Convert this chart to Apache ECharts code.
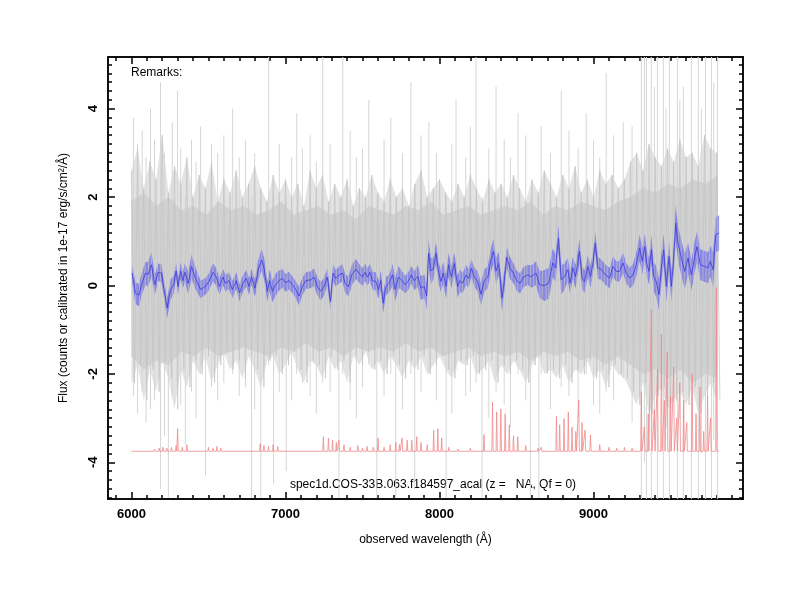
<!DOCTYPE html>
<html>
<head>
<meta charset="utf-8">
<script src="https://cdn.jsdelivr.net/npm/echarts@6/dist/echarts.min.js"></script>
<style>
  html, body { margin: 0; padding: 0; background: #fff; }
  #chart { width: 800px; height: 600px; }
</style>
</head>
<body>
<div id="chart"></div>
<script>
// axis ranges and tick labels
const xMin = 5848, xMax = 9970;
const yMin = -4.83, yMax = 5.17;
const xMajor = [6000, 7000, 8000, 9000];
const yMajor = [-4, -2, 0, 2, 4];

// smoothed spectrum (blue)
const blueWl = [6004,6026,6048,6069,6091,6108,6130,6152,6173,6195,6210,6232,6254,6275,6290,6303,6319,6334,6347,6369,
  6390,6416,6449,6481,6503,6529,6551,6572,6594,6611,6633,6655,6681,6702,6724,6746,6763,6780,6802,6824,
  6845,6861,6882,6897,6915,6936,6958,6980,7001,7023,7045,7066,7088,7110,7132,7164,7186,7207,7229,7251,7272,
  7292,7309,7327,7348,7370,7387,7409,7431,7457,7478,7500,7517,7532,7548,7565,7587,7604,7619,7634,7652,
  7673,7695,7712,7734,7756,7777,7799,7816,7836,7858,7879,7901,7916,7929,7944,7959,7977,7994,8009,8024,
  8042,8059,8077,8096,8118,8133,8150,8172,8189,8207,8226,8248,8269,8291,8313,8334,8350,8367,8384,8406,
  8421,8436,8458,8480,8501,8523,8545,8573,
  8595,8627,8649,8681,8709,8735,8753,8772,8790,8811,8833,8848,8865,8883,8909,8926,8941,8963,8980,8996,
  9011,9028,9050,9078,9104,9126,9147,9169,9191,9212,9234,9256,9277,9299,9316,9332,9347,9360,9375,9390,
  9407,9425,9440,9455,9472,9490,9505,9520,9533,9548,9570,9592,9613,9635,9657,9672,9693,9722,9743,9758,
  9776,9793,9815];
const blueFlux = [0.28,-0.17,-0.22,0.05,0.28,0.25,0.47,0.02,0.3,0.28,-0.06,-0.51,-0.09,0.02,0.33,-0.02,0.33,0.11,0.3,0.05,
  0.43,0.16,-0.09,-0.02,0.09,0.3,0.19,-0.02,0.19,0.05,0.11,-0.09,0.11,-0.17,0.05,0.16,-0.02,0.19,-0.06,0.37,
  0.58,0.39,-0.13,0.11,-0.13,0.02,0.11,0.16,0.06,0.11,0.02,-0.09,-0.24,-0.02,0.11,0.13,0.19,-0.02,-0.13,-0.02,0.19,
  -0.36,0.28,0.16,0.24,0.28,0.05,-0.02,0.24,0.37,0.28,0.19,0.3,0.19,0.3,0.11,0.09,-0.09,0.11,-0.4,-0.02,
  0.05,0.24,-0.09,0.19,0.11,0.02,0.11,0.24,0.11,0.21,-0.06,-0.02,-0.24,0.73,0.33,0.37,0.73,0.3,0.09,0.28,
  -0.02,0.47,0.19,0.5,-0.02,0.11,0.05,0.24,0.16,0.39,0.19,0.09,-0.2,0.11,0.19,0.58,0.77,0.33,0.5,-0.29,
  0.11,0.64,0.39,0.28,0.11,0.05,0.19,0.24,
  0.2,0.28,0.02,0.0,0.05,0.51,0.4,1.07,0.13,0.2,0.36,0.05,0.4,0.2,0.77,0.17,0.09,0.43,0.2,0.51,
  0.96,0.4,0.36,0.24,0.17,0.43,0.32,0.32,0.51,0.28,0.17,0.24,0.47,0.85,0.55,0.88,0.47,0.32,0.81,0.2,
  0.09,-0.21,0.4,0.81,-0.02,0.66,-0.02,0.62,1.41,0.96,0.62,0.32,0.62,0.24,0.66,0.88,0.47,0.43,0.4,0.55,
  0.36,1.15,1.19];
const blueErr = [0.2,0.25,0.25,0.25,0.26,0.28,0.28,0.23,0.2,0.2,0.2,0.23,0.23,0.2,0.19,0.19,0.19,0.19,0.21,0.25,
  0.27,0.25,0.2,0.19,0.19,0.21,0.2,0.19,0.19,0.19,0.19,0.2,0.19,0.2,0.19,0.19,0.19,0.19,0.2,0.23,
  0.25,0.25,0.23,0.25,0.25,0.25,0.23,0.21,0.2,0.2,0.19,0.19,0.21,0.2,0.19,0.19,0.2,0.2,0.21,0.2,0.2,
  0.2,0.2,0.19,0.19,0.2,0.21,0.23,0.23,0.23,0.21,0.2,0.2,0.2,0.19,0.2,0.21,0.21,0.23,0.23,0.21,
  0.2,0.25,0.27,0.25,0.21,0.2,0.2,0.2,0.21,0.25,0.27,0.27,0.3,0.33,0.29,0.25,0.25,0.25,0.25,0.25,
  0.27,0.27,0.25,0.25,0.25,0.25,0.23,0.23,0.21,0.21,0.21,0.23,0.25,0.25,0.25,0.27,0.29,0.29,0.27,0.3,
  0.25,0.25,0.25,0.23,0.23,0.23,0.23,0.23,
  0.25,0.27,0.3,0.35,0.35,0.33,0.31,0.3,0.33,0.3,0.27,0.25,0.25,0.27,0.27,0.27,0.25,0.25,0.25,0.25,
  0.25,0.25,0.23,0.23,0.23,0.23,0.23,0.23,0.23,0.23,0.23,0.25,0.27,0.3,0.3,0.3,0.3,0.3,0.33,0.33,
  0.35,0.35,0.35,0.35,0.35,0.35,0.35,0.35,0.4,0.4,0.4,0.4,0.35,0.35,0.35,0.35,0.35,0.35,0.35,0.35,
  0.4,0.4,0.4];

// raw spectrum (gray): outer reach of the noise, every 40 A from 6000
const grayStart = 6000, grayStep = 40;
const grayHi = [2.6,3.1,2.2,2.8,2.4,3.4,2.1,2.7,2.3,2.9, 2.0,2.5,2.2,2.8,1.9,2.4,2.1,2.6,2.0,2.3,
  2.7,2.2,1.9,2.5,2.1,2.4,2.0,2.3,1.8,2.6, 2.2,2.5,1.9,2.3,2.0,2.4,1.8,2.2,2.0,2.5,
  2.1,1.9,2.4,2.0,2.2,1.8,2.3,2.6,2.0,2.2, 2.4,2.1,1.9,2.3,2.0,2.5,2.2,1.9,2.4,2.1,
  2.3,2.0,2.5,2.2,1.9,2.4,2.1,2.6,2.3,2.0, 2.5,2.2,2.7,2.1,2.4,2.0,2.6,2.3,2.5,2.2,
  2.4,2.8,3.0,2.6,3.2,2.9,2.7,3.1,2.8,3.3, 2.9,3.0,2.7,3.4,3.1,3.0];
const grayLo = [-2.2,-1.8,-2.6,-1.9,-2.4,-1.7,-2.1,-2.8,-1.9,-2.3, -1.7,-2.0,-1.6,-2.2,-1.8,-1.5,-1.9,-1.7,-2.1,-1.6,
  -1.9,-2.3,-1.7,-1.6,-2.0,-1.8,-1.5,-1.9,-2.2,-1.7, -1.8,-2.1,-1.6,-1.9,-1.7,-2.2,-1.6,-1.8,-1.5,-1.9,
  -1.7,-2.0,-1.6,-1.8,-2.1,-1.7,-1.9,-1.6,-2.0,-1.8, -1.6,-1.9,-2.1,-1.7,-1.8,-1.6,-2.0,-1.9,-1.7,-2.2,
  -1.8,-2.0,-1.7,-1.9,-2.2,-1.8,-1.6,-2.0,-1.9,-2.1, -1.8,-2.2,-1.9,-2.0,-1.7,-2.1,-1.9,-2.3,-1.8,-2.0,
  -2.1,-2.4,-2.7,-2.2,-2.9,-2.5,-2.3,-2.8,-2.6,-2.4, -2.7,-2.3,-2.9,-2.5,-2.2,-2.6];
// dense core of the noise, every 81 A from 6000
const coreStep = 81;
const coreHi = [1.9,2.1,1.8,2.0,1.7,1.8,1.6,1.9,1.7,1.8, 1.6,1.7,1.9,1.6,1.7,1.8,1.6,1.7,1.5,1.8,
  1.7,1.6,1.8,1.7,1.9,1.6,1.7,1.8,1.6,1.7, 1.8,1.7,1.9,1.6,1.8,1.7,1.9,1.8,1.7,1.9,
  2.0,2.2,2.1,2.3,2.2,2.4,2.3,2.5];
const coreLo = [-1.6,-1.9,-1.7,-1.8,-1.5,-1.6,-1.4,-1.6,-1.5,-1.4, -1.5,-1.6,-1.4,-1.5,-1.3,-1.5,-1.4,-1.6,-1.4,-1.5,
  -1.4,-1.5,-1.3,-1.5,-1.4,-1.6,-1.5,-1.4,-1.6,-1.5, -1.6,-1.5,-1.7,-1.5,-1.6,-1.5,-1.7,-1.6,-1.8,-1.6,
  -1.8,-2.0,-1.9,-2.1,-1.9,-2.2,-2.0,-2.1];

// isolated gray spikes: wavelength, top, bottom
const spikeWl = [6013,6124,6189,6240,6299,6350,6449,6481,6657,6780,6840,6891,6923,7005,7073,7242,7347,7372,7541,7593,
  7684,7716,7814,7839,7931,8043,8107,8237,8276,8367,8510,8590,8645,8660,8790,8952,9082,9193,
  9310,9330,9343,9375,9395,9414,9453,9470,9492,9544,9560,9583,9635,9680,9700,9726,9765,9780,9804,
  6040,6070,6095,6150,6215,6265,6320,6390,6420,6520,6560,6600,6700,6740,6800,6960,7040,7110,7160,7200,
  7290,7420,7460,7500,7640,7760,7880,7980,8080,8170,8200,8320,8420,8460,8560,8720,8840,8900,9000,9040,
  9130,9250];
const spikeTop = [3.8,4.0,4.6,2.0,4.4,2.0,3.6,2.0,4.0,2.0,2.0,5.3,2.0,2.0,3.9,5.3,2.0,5.3,4.2,2.0,
  3.8,2.0,4.6,2.0,3.7,2.0,4.2,5.3,2.0,4.5,3.9,2.0,2.0,3.6,4.4,3.9,4.8,3.7,
  5.3,5.3,5.3,5.3,4.5,5.3,5.3,4.0,5.3,5.3,4.2,4.5,5.3,5.3,4.0,5.3,5.3,4.6,5.3,
  3.2,3.5,2.9,3.3,3.0,3.7,3.1,3.3,2.8,3.2,3.0,3.4,2.9,3.3,3.0,3.2,2.9,3.1,3.4,2.8,
  3.2,3.5,2.9,3.1,3.3,3.0,3.4,3.0,3.2,2.9,3.6,3.1,3.3,2.9,3.4,3.0,3.5,3.1,3.3,2.9,
  3.4,3.6];
const spikeBot = [-2.5,-2.8,-4.6,-4.8,-2.2,-3.6,-2.0,-4.3,-2.0,-4.8,-4.8,-1.8,-4.5,-4.2,-2.0,-2.2,-4.8,-2.0,-1.8,-4.8,
  -2.0,-4.8,-2.0,-4.6,-2.0,-4.8,-1.9,-2.2,-4.8,-2.4,-2.0,-4.8,-4.8,-2.0,-2.3,-2.0,-2.4,-2.1,
  -4.9,-4.0,-4.9,-4.9,-3.5,-4.9,-4.9,-3.2,-4.9,-4.9,-3.0,-4.9,-4.9,-4.9,-3.8,-4.9,-4.9,-3.5,-4.9,
  -2.9,-2.4,-3.1,-2.6,-3.4,-2.5,-2.7,-2.4,-3.0,-2.3,-2.6,-2.2,-2.5,-2.3,-2.8,-2.4,-2.6,-2.2,-2.5,-2.9,
  -2.4,-2.6,-3.0,-2.3,-2.5,-2.8,-2.4,-2.6,-2.9,-2.5,-2.4,-3.0,-2.7,-3.2,-2.6,-2.8,-2.5,-3.0,-2.7,-2.9,
  -2.6,-3.1];

// sky spectrum (red): baseline and emission line peaks
const skyBase = -3.75;
const skyStart = 6000, skyEnd = 9812;
const skyWl = [6100,6150,6180,6205,6230,6260,6290,6300,6330,6360,6500,6530,6555,6580,6836,6860,6890,6920,6950,7246,
  7279,7306,7330,7347,7380,7420,7470,7500,7530,7570,7601,7640,7680,7716,7740,7757,7790,7820,7852,7880,
  7920,7962,7989,8014,8060,8120,8200,8289,8344,8371,8398,8426,8453,8480,8508,8560,8640,8660,8759,8780,
  8808,8836,8860,8885,8904,8925,8945,8980,9040,9100,9150,9200,9250,9310,9330,9355,9375,9395,9415,9440,
  9460,9478,9500,9520,9540,9560,9585,9605,9640,9665,9690,9715,9740,9760,9797];
const skyPeak = [-3.72,-3.7,-3.68,-3.66,-3.68,-3.66,-3.62,-3.24,-3.66,-3.6,-3.66,-3.68,-3.64,-3.68,-3.58,-3.62,-3.64,-3.6,-3.64,-3.42,
  -3.45,-3.5,-3.55,-3.5,-3.6,-3.66,-3.62,-3.68,-3.64,-3.66,-3.45,-3.66,-3.6,-3.55,-3.6,-3.45,-3.5,-3.5,-3.42,-3.55,
  -3.6,-3.27,-3.24,-3.45,-3.66,-3.7,-3.68,-3.37,-2.64,-2.86,-2.79,-2.9,-3.15,-3.4,-3.42,-3.62,-3.68,-3.66,-2.96,-3.15,
  -3.01,-2.86,-3.2,-3.3,-2.6,-3.1,-3.27,-3.38,-3.6,-3.66,-3.68,-3.66,-3.68,-2.4,-3.2,-2.9,-0.55,-2.8,-1.9,-1.1,
  -2.6,-1.5,-2.5,-1.84,-3.0,-2.2,-2.6,-3.1,-2.0,-2.9,-2.3,-3.3,-2.5,-3.0,-0.05];

const titleText = 'spec1d.COS-33B.063.f184597_acal (z =   NA, Qf = 0)';
const FONT = '"Liberation Sans", Arial, sans-serif';

// minor tick positions
const xMinor = [];
for (let v = 5900; v <= 9900; v += 100) xMinor.push(v);
const yMinor = [];
for (let k = -24; k <= 25; k++) yMinor.push(Math.round(k * 2) / 10);

// build the series data
const grayLine = [];
grayHi.forEach((h, i) => {
  const w = grayStart + i * grayStep;
  grayLine.push([w, h]);
  grayLine.push([w + grayStep / 2, grayLo[i]]);
});
const outerWl = grayHi.map((h, i) => grayStart + i * grayStep);
const coreWl = coreHi.map((h, i) => grayStart + i * coreStep);
const spikes = spikeWl.map((w, i) => [w, spikeTop[i], spikeBot[i]]);
const skyLine = [[skyStart, skyBase]];
skyWl.forEach((w, i) => {
  skyLine.push([w - 4, skyBase], [w, skyPeak[i]], [w + 4, skyBase]);
});
skyLine.push([skyEnd, skyBase]);
const blueLine = blueWl.map((w, i) => [w, blueFlux[i]]);

// polygon between an upper and a lower curve, through the axis scales
function bandItem(wl, hi, lo, fill) {
  return (params, api) => {
    const pts = [];
    for (let i = 0; i < wl.length; i++) pts.push(api.coord([wl[i], hi[i]]));
    for (let i = wl.length - 1; i >= 0; i--) pts.push(api.coord([wl[i], lo[i]]));
    return { type: 'polygon', shape: { points: pts }, style: { fill: fill } };
  };
}

const chart = echarts.init(document.getElementById('chart'));

const black = { color: '#000', width: 1.5 };
function xAxisOf(grid, pos, ticks, len, withLabels) {
  return {
    type: 'value', gridIndex: grid, min: xMin, max: xMax, position: pos,
    axisLine: { show: true, onZero: false, lineStyle: black },
    axisTick: { show: true, inside: true, length: len, customValues: ticks, lineStyle: black },
    axisLabel: withLabels
      ? { show: true, customValues: xMajor, color: '#000', fontWeight: 'bold', fontSize: 13, fontFamily: FONT, margin: 9,
          formatter: v => String(v) }
      : { show: false },
    splitLine: { show: false }
  };
}
function yAxisOf(grid, pos, ticks, len, withLabels) {
  return {
    type: 'value', gridIndex: grid, min: yMin, max: yMax, position: pos,
    axisLine: { show: true, onZero: false, lineStyle: black },
    axisTick: { show: true, inside: true, length: len, customValues: ticks, lineStyle: black },
    axisLabel: withLabels
      ? { show: true, customValues: yMajor, rotate: 90, color: '#000', fontWeight: 'bold', fontSize: 13, fontFamily: FONT, margin: 8,
          formatter: v => String(v) }
      : { show: false },
    splitLine: { show: false }
  };
}

const xAxes = [
  xAxisOf(0, 'bottom', xMajor, 7, true),
  xAxisOf(0, 'top', xMajor, 7, false),
  xAxisOf(1, 'bottom', xMinor, 4, false),
  xAxisOf(1, 'top', xMinor, 4, false)
];
Object.assign(xAxes[0], {
  name: 'observed wavelength (Å)', nameLocation: 'middle', nameGap: 35,
  nameTextStyle: { color: '#000', fontSize: 12, fontFamily: FONT }
});
const yAxes = [
  yAxisOf(0, 'left', yMajor, 7, true),
  yAxisOf(0, 'right', yMajor, 7, false),
  yAxisOf(1, 'left', yMinor, 4, false),
  yAxisOf(1, 'right', yMinor, 4, false)
];
Object.assign(yAxes[0], {
  name: 'Flux (counts or calibrated in 1e-17 erg/s/cm²/Å)', nameLocation: 'middle', nameGap: 38, nameRotate: 90,
  nameTextStyle: { color: '#000', fontSize: 12, fontFamily: FONT }
});

const gridBox = { left: 108, right: 57, top: 57, bottom: 101, containLabel: false, outerBoundsMode: 'none' };

chart.setOption({
  animation: false,
  backgroundColor: '#fff',
  grid: [Object.assign({}, gridBox), Object.assign({}, gridBox)],
  xAxis: xAxes,
  yAxis: yAxes,
  graphic: [
    { type: 'text', left: 131, top: 67, style: { text: 'Remarks:', fill: '#000', font: '12px ' + FONT } },
    { type: 'text', x: 433, y: 485, style: { text: titleText, fill: '#000', font: '12px ' + FONT, textAlign: 'center', textVerticalAlign: 'middle' } }
  ],
  series: [
    {
      type: 'custom', name: 'outer', silent: true, clip: true, data: [[7000, 0]],
      renderItem: bandItem(outerWl, grayHi, grayLo, '#e3e3e3')
    },
    {
      type: 'custom', name: 'spikes', silent: true, clip: true,
      data: spikes,
      encode: { x: 0, y: [1, 2] },
      renderItem: (params, api) => {
        const a = api.coord([api.value(0), api.value(1)]);
        const b = api.coord([api.value(0), api.value(2)]);
        return { type: 'line', shape: { x1: a[0], y1: a[1], x2: b[0], y2: b[1] }, style: { stroke: '#d6d6d6', lineWidth: 1 } };
      }
    },
    {
      type: 'custom', name: 'core', silent: true, clip: true, data: [[7000, 0]],
      renderItem: bandItem(coreWl, coreHi, coreLo, '#d1d1d1')
    },
    {
      type: 'line', name: 'raw', data: grayLine, showSymbol: false, silent: true,
      lineStyle: { color: '#c3c3c3', width: 0.7 }
    },
    {
      type: 'line', name: 'sky', data: skyLine, showSymbol: false, silent: true,
      lineStyle: { color: '#f08a8a', width: 0.8 }
    },
    {
      type: 'custom', name: 'band', silent: true, clip: true, data: [[7000, 0]],
      renderItem: bandItem(blueWl, blueFlux.map((f, i) => f + blueErr[i]), blueFlux.map((f, i) => f - blueErr[i]), 'rgba(125,125,230,0.85)')
    },
    {
      type: 'line', name: 'smoothed', data: blueLine, showSymbol: false, silent: true,
      lineStyle: { color: '#3a3ad8', width: 0.8 }
    }
  ]
});
</script>
</body>
</html>
